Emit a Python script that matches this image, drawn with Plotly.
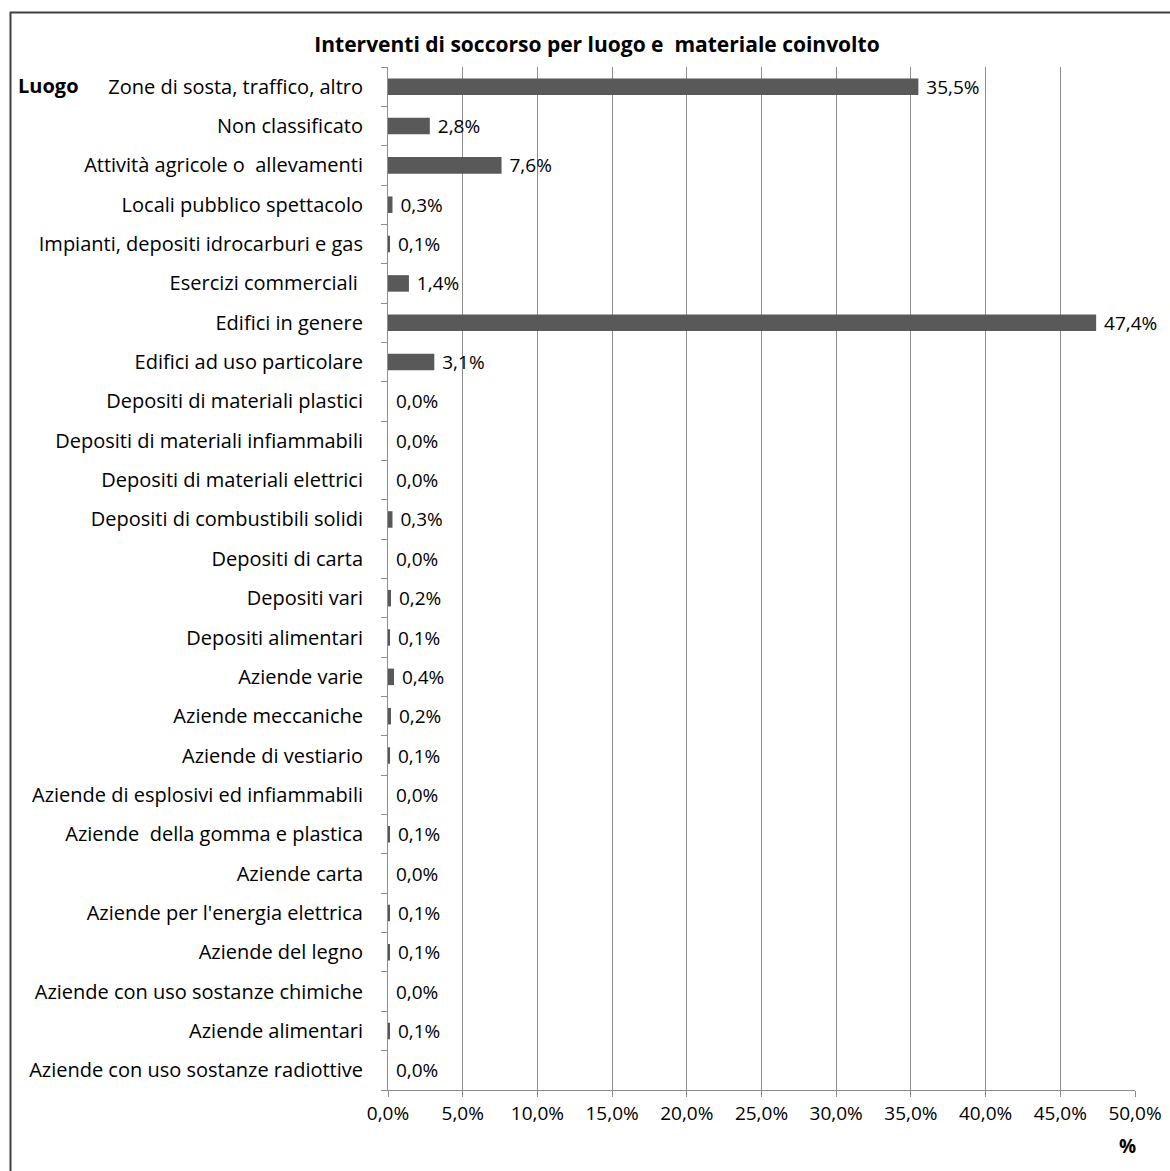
import plotly.graph_objects as go

categories = [
    "Zone di sosta, traffico, altro",
    "Non classificato",
    "Attività agricole o  allevamenti",
    "Locali pubblico spettacolo",
    "Impianti, depositi idrocarburi e gas",
    "Esercizi commerciali ",
    "Edifici in genere",
    "Edifici ad uso particolare",
    "Depositi di materiali plastici",
    "Depositi di materiali infiammabili",
    "Depositi di materiali elettrici",
    "Depositi di combustibili solidi",
    "Depositi di carta",
    "Depositi vari",
    "Depositi alimentari",
    "Aziende varie",
    "Aziende meccaniche",
    "Aziende di vestiario",
    "Aziende di esplosivi ed infiammabili",
    "Aziende  della gomma e plastica",
    "Aziende carta",
    "Aziende per l'energia elettrica",
    "Aziende del legno",
    "Aziende con uso sostanze chimiche",
    "Aziende alimentari",
    "Aziende con uso sostanze radiottive",
]
values = [35.5, 2.8, 7.6, 0.3, 0.1, 1.4, 47.4, 3.1, 0.0, 0.0, 0.0, 0.3, 0.0,
          0.2, 0.1, 0.4, 0.2, 0.1, 0.0, 0.1, 0.0, 0.1, 0.1, 0.0, 0.1, 0.0]
tick_vals = [0, 5, 10, 15, 20, 25, 30, 35, 40, 45, 50]

FONT = "Open Sans"
FS = 19
W, H = 1170, 1171
L, R, T, B = 388, 35, 67, 81
pw, ph = W - L - R, H - T - B

def px_x(px):
    return (px - L) / pw

def px_y(py):
    return (H - B - py) / ph

def fmt(v):
    return ("%.1f%%" % v).replace(".", ",")

labels = ["\u00a0" + fmt(v) for v in values]
tick_text = [fmt(v) for v in tick_vals]

fig = go.Figure(go.Bar(
    y=categories, x=values, orientation="h",
    marker=dict(color="#595959", line=dict(width=0)),
    width=0.42,
    text=labels, textposition="outside", cliponaxis=False,
    constraintext="none",
    textfont=dict(family=FONT, size=FS, color="#000000"),
    hoverinfo="skip",
))

fig.update_layout(
    width=W, height=H,
    margin=dict(l=L, r=R, t=T, b=B, autoexpand=False),
    paper_bgcolor="white", plot_bgcolor="white",
    showlegend=False,
    title=dict(text="<b>Interventi di soccorso per luogo e  materiale coinvolto</b>",
               x=597 / W, xref="container", xanchor="center",
               y=1 - 45 / H, yref="container", yanchor="middle",
               font=dict(family=FONT, size=21, color="#000000")),
    xaxis=dict(range=[0, 50], tickvals=tick_vals, ticktext=tick_text,
               showgrid=True, gridcolor="#8c8c8c", gridwidth=1,
               showline=True, linecolor="#8c8c8c", linewidth=1,
               ticks="outside", ticklen=6, tickcolor="#8c8c8c",
               tickfont=dict(family=FONT, size=FS, color="#000000"),
               automargin=False,
               zeroline=False, fixedrange=True),
    yaxis=dict(categoryorder="array", categoryarray=categories[::-1],
               showline=True, linecolor="#8c8c8c", linewidth=1,
               ticks="outside", ticklen=6, tickcolor="#8c8c8c", tickson="boundaries",
               tickfont=dict(family=FONT, size=20, color="#000000"),
               ticklabelstandoff=20, automargin=False,
               showgrid=False, zeroline=False, fixedrange=True),
    shapes=[dict(type="rect", xref="paper", yref="paper",
                 x0=px_x(10.5), x1=px_x(1200), y0=px_y(1200), y1=px_y(12.5),
                 line=dict(color="#404040", width=2), fillcolor="rgba(0,0,0,0)",
                 layer="above")],
    annotations=[
        dict(text="<b>Luogo</b>", xref="paper", yref="paper",
             x=px_x(16), y=px_y(86), xanchor="left", yanchor="middle",
             showarrow=False, font=dict(family=FONT, size=20, color="#000000")),
        dict(text="<b>%</b>", xref="paper", yref="paper",
             x=px_x(1127), y=px_y(1146), xanchor="center", yanchor="middle",
             showarrow=False, font=dict(family=FONT, size=FS, color="#000000")),
    ],
)

fig.write_html("out.html")
